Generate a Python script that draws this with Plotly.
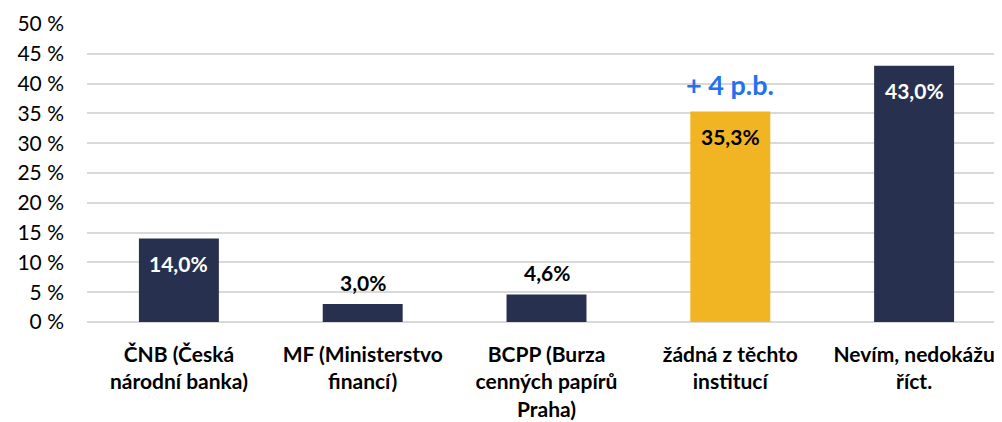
import plotly.graph_objects as go

categories = ["ČNB (Česká<br>národní banka)", "MF (Ministerstvo<br>financí)",
              "BCPP (Burza<br>cenných papírů<br>Praha)", "žádná z těchto<br>institucí",
              "Nevím, nedokážu<br>říct."]
values = [14.0, 3.0, 4.6, 35.3, 43.0]
value_labels = ["14,0%", "3,0%", "4,6%", "35,3%", "43,0%"]
label_inside = [True, False, False, True, True]
label_colors = ["white", "black", "black", "black", "white"]
bar_colors = ["#27314F", "#27314F", "#27314F", "#F1B422", "#27314F"]
tick_vals = [0, 5, 10, 15, 20, 25, 30, 35, 40, 45, 50]
tick_text = [f"{v} %" for v in tick_vals]
note_text = "+ 4 p.b."
note_index = 3

FONT = "Lato, Calibri, 'Open Sans', sans-serif"

fig = go.Figure(go.Bar(x=categories, y=values, marker_color=bar_colors,
                       marker_line_width=0, hoverinfo="skip"))

for c, v, t, ins, col in zip(categories, values, value_labels, label_inside, label_colors):
    fig.add_annotation(x=c, y=v, text=f"<b>{t}</b>", showarrow=False,
                       yanchor="middle",
                       yshift=-25 if ins else 22,
                       font=dict(family=FONT, size=21, color=col))

fig.add_annotation(x=categories[note_index], y=values[note_index], text=f"<b>{note_text}</b>",
                   showarrow=False, yanchor="middle", yshift=27,
                   font=dict(family=FONT, size=27, color="#2272F0"))

# page body adds an 8px offset; margins compensate so the plot lands where the reference has it
fig.update_layout(
    width=1002, height=422,
    margin=dict(l=79, r=4, t=16, b=108),
    paper_bgcolor="white", plot_bgcolor="white",
    bargap=0.565, showlegend=False,
    font=dict(family=FONT, color="black"),
)
fig.update_yaxes(range=[0, 50], tickvals=tick_vals, ticktext=tick_text,
                 showgrid=True, gridcolor="#D9D9D9", gridwidth=1.5,
                 zeroline=True, zerolinecolor="#D9D9D9", zerolinewidth=1.5,
                 tickfont=dict(family=FONT, size=21, color="black"),
                 ticklabelstandoff=22, showline=False, automargin=False)
fig.update_xaxes(tickfont=dict(family=FONT, size=21, color="black"),
                 tickprefix="<b>", ticksuffix="</b>", ticklabelstandoff=18,
                 showline=False, automargin=False)

fig.write_html("out.html")
